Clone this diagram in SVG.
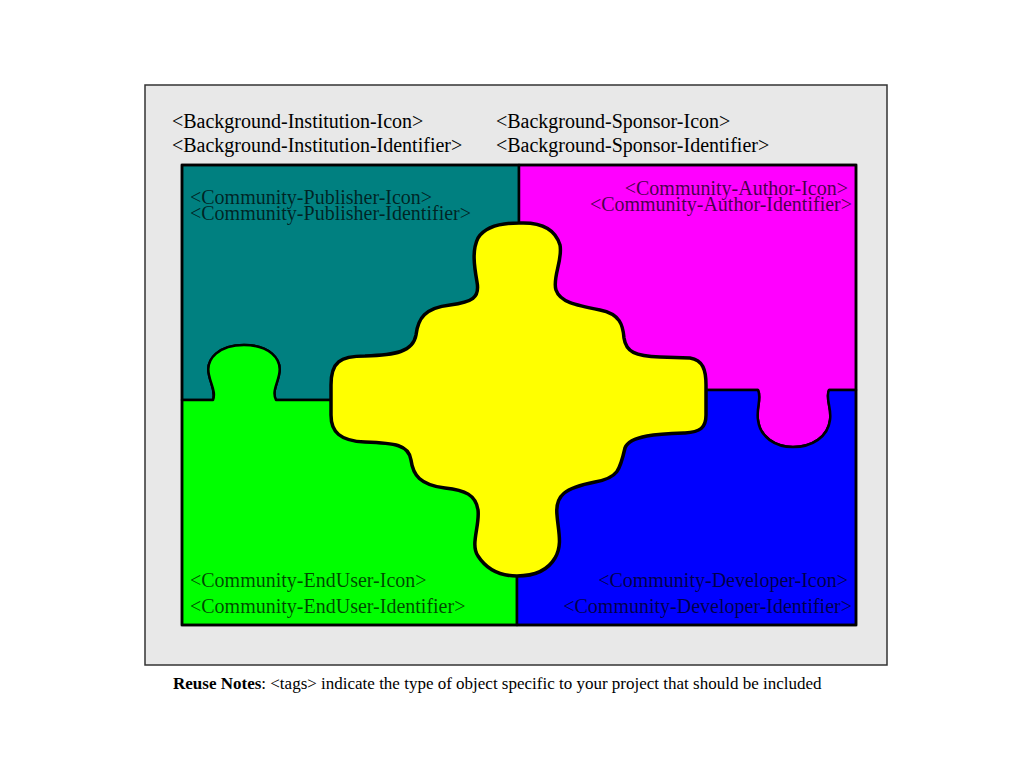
<svg xmlns="http://www.w3.org/2000/svg" width="1024" height="768" viewBox="0 0 1024 768">
<style>
.lbl{font-family:"Liberation Serif","Times New Roman",serif;font-size:20px;fill:#000}
.cl{font-family:"Liberation Serif","Times New Roman",serif;font-size:20px;fill:#000;fill-opacity:0.72}
.note{font-family:"Liberation Serif","Times New Roman",serif;font-size:17px;fill:#000}
.piece{stroke:#000;stroke-width:2.5;stroke-linejoin:round}
</style>
<rect width="1024" height="768" fill="#ffffff"/>
<g id="background">
<rect x="145" y="85" width="742" height="580" fill="#e8e8e8" stroke="#333" stroke-width="1.5"/>
<text class="lbl" x="172" y="128">&lt;Background-Institution-Icon&gt;</text>
<text class="lbl" x="172" y="152">&lt;Background-Institution-Identifier&gt;</text>
<text class="lbl" x="496" y="128">&lt;Background-Sponsor-Icon&gt;</text>
<text class="lbl" x="496" y="152">&lt;Background-Sponsor-Identifier&gt;</text>
</g>
<g id="publisher">
<path class="piece" fill="#008080" d="M182,165 H519 V400 H276 C272,392 277,385 279,375 C283,358 268,345 244,345 C220,345 205,358 209,375 C211,385 216,392 213,400 H182 Z"/>
<text class="cl" x="190" y="204">&lt;Community-Publisher-Icon&gt;</text>
<text class="cl" x="190" y="220">&lt;Community-Publisher-Identifier&gt;</text>
</g>
<g id="author">
<path class="piece" fill="#ff00ff" d="M519,165 H856 V390 H829 C825,398 832,408 830,420 C828,437 812,447 793,447 C775,447 760,437 758,420 C756,408 762,398 758,390 H519 Z"/>
<text class="cl" x="848" y="195" text-anchor="end">&lt;Community-Author-Icon&gt;</text>
<text class="cl" x="852" y="211" text-anchor="end">&lt;Community-Author-Identifier&gt;</text>
</g>
<g id="enduser">
<path class="piece" fill="#00ff00" d="M182,400 H213 C216,392 211,385 209,375 C205,358 220,345 244,345 C268,345 283,358 279,375 C277,385 272,392 276,400 H517 V625 H182 Z"/>
<text class="cl" x="190" y="587">&lt;Community-EndUser-Icon&gt;</text>
<text class="cl" x="190" y="613">&lt;Community-EndUser-Identifier&gt;</text>
</g>
<g id="developer">
<path class="piece" fill="#0000ff" d="M517,390 H758 C762,398 756,408 758,420 C760,437 775,447 793,447 C812,447 828,437 830,420 C832,408 825,398 829,390 H856 V625 H517 Z"/>
<text class="cl" x="848" y="587" text-anchor="end">&lt;Community-Developer-Icon&gt;</text>
<text class="cl" x="852" y="613" text-anchor="end">&lt;Community-Developer-Identifier&gt;</text>
</g>
<g id="center">
<path fill="#ffff00" stroke="#000" stroke-width="3.5" stroke-linejoin="round" d="M519,223 C540,222 555,228 560,245 C563,260 552,278 556,290 C560,302 575,305 600,310 C620,314 623,325 624,338 C626,352 635,356 660,357 L690,358 C703,360 706,370 706,385 L706,415 C706,428 700,432 685,433 C660,434 630,435 625,448 C620,470 618,478 595,482 C565,488 555,495 557,515 C558,530 563,545 555,558 C548,570 535,576 517,576 C500,576 487,570 478,556 C470,545 480,525 478,510 C476,495 465,490 445,488 C420,485 413,475 411,460 C409,445 395,443 365,442 C340,441 331,432 331,415 L331,385 C331,362 340,356 365,356 C395,355 413,352 416,335 C418,318 425,308 450,305 C472,302 480,298 477,282 C474,265 472,250 478,238 C485,227 500,223 519,223 Z"/>
</g>
<g id="connectors"></g>
<g id="frame">
<rect x="182" y="165" width="674" height="460" fill="none" stroke="#000" stroke-width="2.5"/>
</g>
<text class="note" x="173" y="689"><tspan font-weight="bold">Reuse Notes</tspan>: &lt;tags&gt; indicate the type of object specific to your project that should be included</text>
</svg>
